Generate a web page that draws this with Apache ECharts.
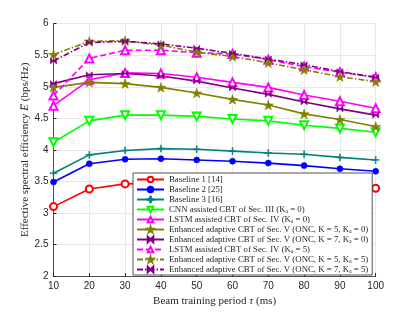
<!DOCTYPE html>
<html><head><meta charset="utf-8">
<script src="https://cdn.jsdelivr.net/npm/echarts@6/dist/echarts.min.js"></script>
<style>html,body{margin:0;padding:0;background:#fff}#c{width:415px;height:312px}</style>
</head><body><div id="c"></div>
<script>
const periods = [10,20,30,40,50,60,70,80,90,100];
const xTicks = [10,20,30,40,50,60,70,80,90,100];
const yTicks = [2,2.5,3,3.5,4,4.5,5,5.5,6];

const baseline1 = [3.10,3.38,3.46,3.47,3.46,3.45,3.44,3.42,3.40,3.39];
const baseline2 = [3.49,3.78,3.85,3.86,3.84,3.82,3.79,3.75,3.70,3.66];
const baseline3 = [3.63,3.92,3.99,4.02,4.01,3.98,3.95,3.93,3.88,3.84];
const cnnKa0 = [4.12,4.46,4.55,4.55,4.53,4.49,4.46,4.39,4.34,4.28];
const lstmKa0 = [4.70,5.11,5.22,5.21,5.15,5.07,4.99,4.87,4.77,4.66];
const encK5Ka0 = [4.99,5.07,5.05,4.99,4.90,4.80,4.71,4.57,4.48,4.37];
const encK7Ka0 = [5.05,5.19,5.21,5.17,5.09,4.98,4.88,4.76,4.65,4.55];
const lstmKa5 = [4.86,5.45,5.58,5.58,5.54,5.52,5.43,5.32,5.23,5.15];
const encK5Ka5 = [5.51,5.72,5.73,5.66,5.55,5.48,5.38,5.27,5.16,5.08];
const encK7Ka5 = [5.41,5.70,5.72,5.68,5.61,5.53,5.44,5.35,5.24,5.15];

const names = [
  'Baseline 1 [14]',
  'Baseline 2 [25]',
  'Baseline 3 [16]',
  'CNN assisted CBT of Sec. III (Kₐ = 0)',
  'LSTM assisted CBT of Sec. IV (Kₐ = 0)',
  'Enhanced adaptive CBT of Sec. V (ONC, K = 5, Kₐ = 0)',
  'Enhanced adaptive CBT of Sec. V (ONC, K = 7, Kₐ = 0)',
  'LSTM assisted CBT of Sec. IV (Kₐ = 5)',
  'Enhanced adaptive CBT of Sec. V (ONC, K = 5, Kₐ = 5)',
  'Enhanced adaptive CBT of Sec. V (ONC, K = 7, Kₐ = 5)'
];

const STAR = 'path://M0,-1 L0.225,-0.309 L0.951,-0.309 L0.363,0.118 L0.588,0.809 L0,0.382 L-0.588,0.809 L-0.363,0.118 L-0.951,-0.309 L-0.225,-0.309 Z';
const PLUS = 'path://M-0.12,-1 L0.12,-1 L0.12,-0.12 L1,-0.12 L1,0.12 L0.12,0.12 L0.12,1 L-0.12,1 L-0.12,0.12 L-1,0.12 L-1,-0.12 L-0.12,-0.12 Z';
const BOW = 'path://M-1,-1 L1,1 L1,-1 L-1,1 Z';

function mk(name, data, color, symbol, size, opts) {
  opts = opts || {};
  return {
    name: name, type: 'line', data: periods.map((p,i)=>[p,data[i]]),
    symbol: symbol, symbolSize: size, symbolRotate: opts.rot || 0, symbolKeepAspect: true,
    showAllSymbol: true,
    lineStyle: {color: color, width: 1.6, type: opts.dash || 'solid'},
    itemStyle: opts.hollow ? {color: color, borderWidth: 1.4}
                           : {color: color, borderColor: color, borderWidth: 0.6},
    emphasis: {disabled: true}, animation: false, z: 2
  };
}

const chart = echarts.init(document.getElementById('c'), null, {renderer: 'canvas'});
const serif = '"Liberation Serif", "DejaVu Serif", serif';
chart.setOption({
  animation: false,
  backgroundColor: '#fff',
  grid: {left: 53.5, right: 39.3, top: 23.7, bottom: 35, containLabel: false},
  xAxis: {
    type: 'value', min: 10, max: 100, interval: 10,
    name: 'Beam training period {i|τ} (ms)', nameLocation: 'middle', nameGap: 20,
    nameTextStyle: {fontFamily: serif, fontSize: 11, color: '#262626',
      rich: {i: {fontFamily: serif, fontStyle: 'italic', fontSize: 11, color: '#262626'}}},
    axisLine: {lineStyle: {color: '#262626', width: 0.8}},
    axisTick: {inside: true, length: 3, lineStyle: {color: '#262626'}},
    axisLabel: {fontFamily: '"Liberation Sans", Arial, sans-serif', fontSize: 10, color: '#262626', margin: 5},
    splitLine: {show: true, lineStyle: {color: '#e3e3e3', width: 0.8}}
  },
  yAxis: {
    type: 'value', min: 2, max: 6, interval: 0.5,
    name: 'Effective spectral efficiency {i|E̅} (bps/Hz)', nameLocation: 'middle', nameGap: 23,
    nameMoveOverlap: false,
    nameTextStyle: {fontFamily: serif, fontSize: 11, color: '#262626',
      rich: {i: {fontFamily: serif, fontStyle: 'italic', fontSize: 11, color: '#262626'}}},
    axisLine: {show: true, lineStyle: {color: '#262626', width: 0.8}},
    axisTick: {show: true, inside: true, length: 3, lineStyle: {color: '#262626'}},
    axisLabel: {fontFamily: '"Liberation Sans", Arial, sans-serif', fontSize: 10, color: '#262626', margin: 5,
      formatter: v => String(v)},
    splitLine: {show: true, lineStyle: {color: '#e3e3e3', width: 0.8}}
  },
  legend: {
    orient: 'vertical', left: 133, top: 173,
    padding: [2, 4, 1, 3], itemGap: 1, itemWidth: 27, itemHeight: 7,
    backgroundColor: '#fff', borderColor: '#262626', borderWidth: 0.8, borderRadius: 0,
    textStyle: {fontFamily: serif, fontSize: 8.8, lineHeight: 8, color: '#262626'},
    data: names, selectedMode: false, z: 10
  },
  series: [
    mk(names[0], baseline1, '#ff0000', 'emptyCircle', 7, {hollow: true}),
    mk(names[1], baseline2, '#0000ff', 'circle', 6),
    mk(names[2], baseline3, '#008080', PLUS, 7),
    mk(names[3], cnnKa0, '#00ff00', 'emptyTriangle', 8, {hollow: true, rot: 180}),
    mk(names[4], lstmKa0, '#ff00ff', 'emptyTriangle', 8, {hollow: true}),
    mk(names[5], encK5Ka0, '#808000', STAR, 10),
    mk(names[6], encK7Ka0, '#800080', BOW, 6),
    mk(names[7], lstmKa5, '#ff00ff', 'emptyTriangle', 8, {hollow: true, dash: [6,3]}),
    mk(names[8], encK5Ka5, '#808000', STAR, 10, {dash: [6,2,1.5,2]}),
    mk(names[9], encK7Ka5, '#800080', BOW, 6, {dash: [6,2,1.5,2]})
  ]
});
</script></body></html>
